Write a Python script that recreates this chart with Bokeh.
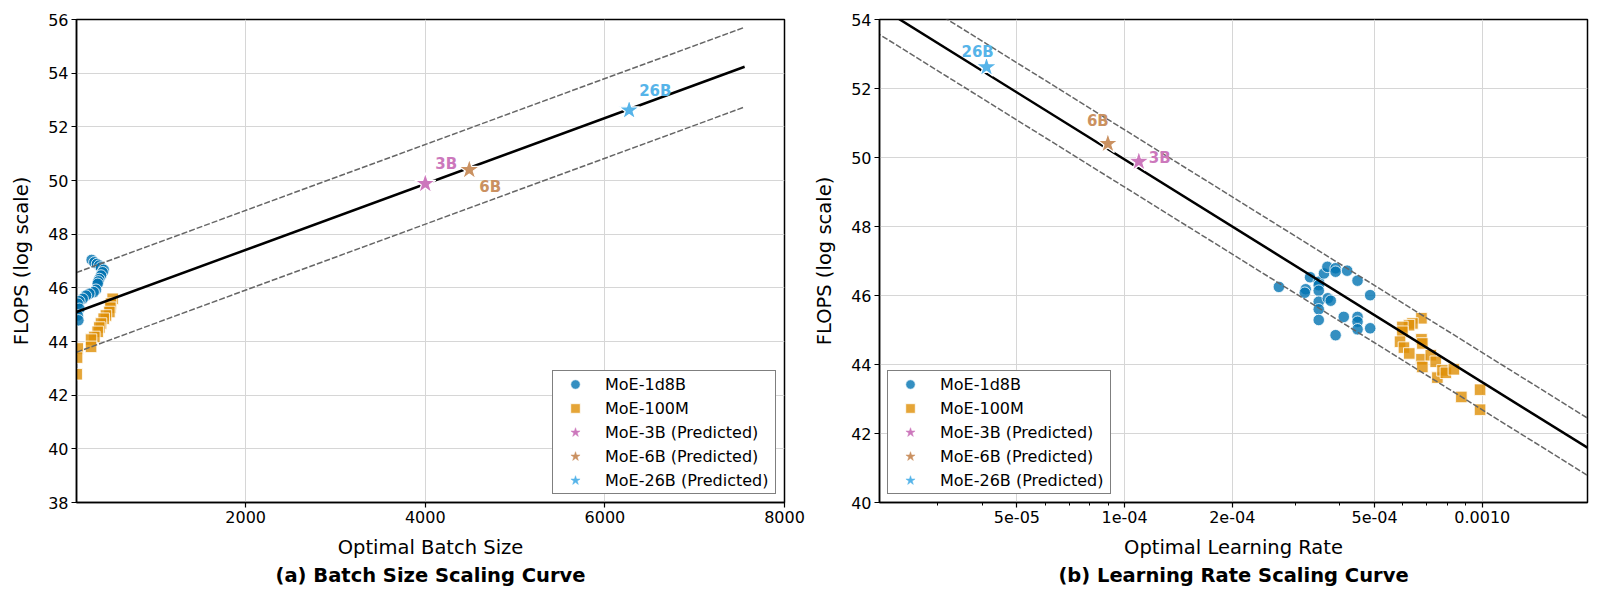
import numpy as np
from bokeh.plotting import figure
from bokeh.models import Range1d, FixedTicker, Title, Legend, LegendItem, ColumnDataSource
from bokeh.layouts import row
from bokeh.embed import file_html
from bokeh.resources import INLINE
from bokeh.core.properties import value

# ---------------- data: (a) batch size scaling ----------------
bs_1d8b = [285, 315, 344, 370, 389, 419, 407, 389, 370, 359, 352, 333, 307,
           259, 222, 185, 148, 130, 148, 130, 137]
flops_bs_1d8b = [47.04, 46.95, 46.89, 46.83, 46.76, 46.67, 46.58, 46.46, 46.33,
                 46.24, 46.15, 45.93, 45.84, 45.78, 45.71, 45.59, 45.50, 45.41,
                 45.22, 44.97, 44.79]
bs_100m = [519, 500, 493, 482, 444, 419, 389, 370, 352, 315, 278, 278, 130, 122, 118]
flops_bs_100m = [45.59, 45.41, 45.26, 45.10, 44.97, 44.85, 44.67, 44.52, 44.36,
                 44.17, 44.07, 43.80, 43.74, 43.40, 42.78]

# ---------------- data: (b) learning rate scaling ----------------
lr_1d8b = [2.70e-4, 3.21e-4, 3.19e-4, 3.30e-4, 3.49e-4, 3.49e-4, 3.49e-4, 3.49e-4,
           3.49e-4, 3.49e-4, 3.61e-4, 3.69e-4, 3.70e-4, 3.77e-4, 3.89e-4, 3.89e-4,
           3.89e-4, 4.10e-4, 4.19e-4, 4.48e-4, 4.48e-4, 4.48e-4, 4.48e-4, 4.86e-4,
           4.86e-4]
flops_lr_1d8b = [46.25, 46.18, 46.08, 46.53, 46.40, 46.30, 46.14, 45.82, 45.60,
                 45.29, 46.64, 46.83, 45.92, 45.85, 46.79, 46.69, 44.85, 45.38,
                 46.72, 46.43, 45.38, 45.24, 45.02, 46.01, 45.05]
lr_100m = [6.76e-4, 6.38e-4, 6.24e-4, 5.98e-4, 5.98e-4, 5.89e-4, 6.04e-4, 6.25e-4,
           6.76e-4, 6.80e-4, 6.76e-4, 6.80e-4, 7.18e-4, 7.41e-4, 7.49e-4, 7.74e-4,
           7.91e-4, 8.33e-4, 8.74e-4, 9.86e-4, 9.86e-4]
flops_lr_100m = [45.34, 45.19, 45.14, 45.09, 44.95, 44.66, 44.49, 44.32, 44.73,
                 44.61, 44.15, 43.93, 44.27, 44.08, 43.62, 43.83, 43.76, 43.86,
                 43.06, 43.27, 42.69]

# ---------------- predicted models ----------------
pred_names = ["3B", "6B", "26B"]
pred_legend = ["MoE-3B (Predicted)", "MoE-6B (Predicted)", "MoE-26B (Predicted)"]
pred_bs = [4000, 4490, 6270]
pred_lr = [1.096e-4, 8.98e-5, 4.11e-5]
pred_flops = [49.88, 50.40, 52.62]

# ---------------- fitted curves ----------------
bs_fit_intercept = 44.958
bs_fit_slope = 0.0012285
bs_fit_x = [116, 7556]
bs_band = [1.47, -1.50]

lr_fit_intercept = 24.118
lr_fit_slope = -6.456          # per decade of learning rate
lr_fit_x = [1.0e-5, 2.5e-3]
lr_band = [0.86, -0.80]

# tick labels
bs_ticks = [2000, 4000, 6000, 8000]
lr_ticks = [5e-5, 1e-4, 2e-4, 5e-4, 1e-3]
lr_tick_labels = ["5e-05", "1e-04", "2e-04", "5e-04", "0.0010"]
lr_minor = [2e-5, 3e-5, 4e-5, 6e-5, 7e-5, 8e-5, 9e-5, 3e-4, 4e-4, 6e-4, 7e-4, 8e-4, 9e-4]

# ---------------- styles ----------------
C_BLUE = "#0173b2"
C_ORANGE = "#de8f05"
pred_colors = ["#cc78bc", "#ca9161", "#56b4e9"]
FONT = "DejaVu Sans"
bs_label_dx = [10, 10, 10]
bs_label_dy = [-20, 17, -19]
lr_label_dx = [10, -21, -25]
lr_label_dy = [-4, -23, -15]
PT_SIZE = 11.5
STAR_SIZE = 22


def style(p, xlabel, subtitle):
    p.outline_line_color = "black"
    p.outline_line_width = 1.5
    p.background_fill_color = "white"
    p.border_fill_color = "white"
    for ax in (p.xaxis[0], p.yaxis[0]):
        ax.axis_line_color = "black"
        ax.axis_line_width = 1.5
        ax.major_tick_out = 5
        ax.major_tick_in = 0
        ax.major_tick_line_width = 1.2
        ax.minor_tick_out = 0
        ax.minor_tick_in = 0
        ax.major_label_text_font = FONT
        ax.major_label_text_font_size = "16px"
        ax.major_label_text_color = "black"
        ax.major_label_standoff = 3
        ax.axis_label_text_font = FONT
        ax.axis_label_text_font_size = "19.5px"
        ax.axis_label_text_font_style = "normal"
        ax.axis_label_text_color = "black"
    p.xaxis.axis_label = xlabel
    p.yaxis.axis_label = "FLOPS (log scale)"
    p.xaxis.axis_label_standoff = 10
    p.yaxis.axis_label_standoff = 12
    p.grid.grid_line_color = "#d6d6d6"
    p.grid.grid_line_width = 1
    p.add_layout(Title(text=subtitle, align="center", text_font=FONT,
                       text_font_size="19.5px", text_font_style="bold",
                       text_color="black", standoff=0), "below")


def add_legend(p, r_blue, r_orange, loc):
    items = [LegendItem(label="MoE-1d8B", renderers=[r_blue]),
             LegendItem(label="MoE-100M", renderers=[r_orange])]
    for lab, col in zip(pred_legend, pred_colors):
        # legend handle only: a single NaN point, never drawn in the plot area
        h = p.scatter(x=[np.nan], y=[np.nan], marker="star", fill_color=col,
                      line_color=col, line_width=0.5)
        items.append(LegendItem(label=lab, renderers=[h]))
    lg = Legend(items=items, location=loc, margin=8, padding=1, spacing=0,
                glyph_height=24, glyph_width=42, label_height=20, label_standoff=9,
                label_width=169, label_text_font=FONT, label_text_font_size="16px",
                label_text_color="black", border_line_color="black",
                border_line_width=1, background_fill_color="white",
                background_fill_alpha=1)
    p.add_layout(lg)


def add_points(p, xs_blue, ys_blue, xs_orange, ys_orange):
    rb = p.scatter(xs_blue, ys_blue, marker="circle", size=PT_SIZE, fill_color=C_BLUE,
                   fill_alpha=0.8, line_color="white", line_alpha=0.8, line_width=1)
    ro = p.scatter(xs_orange, ys_orange, marker="square", size=PT_SIZE,
                   fill_color=C_ORANGE, fill_alpha=0.8, line_color="white",
                   line_alpha=0.8, line_width=1)
    return rb, ro


def add_stars(p, xs, dx, dy):
    for i in range(3):
        p.scatter([xs[i]], [pred_flops[i]], marker="star", size=STAR_SIZE,
                  fill_color=pred_colors[i], line_color="white", line_width=1.2)
    src = ColumnDataSource(dict(x=xs, y=pred_flops, t=pred_names, c=pred_colors,
                                dx=dx, dy=dy))
    p.text(x="x", y="y", text="t", source=src, text_color="c", x_offset="dx",
           y_offset="dy", text_font=value(FONT), text_font_size="15px",
           text_font_style="bold", text_align="left", text_baseline="middle")


# ================= (a) Batch Size =================
p1 = figure(width=808, height=598, x_range=Range1d(116, 8000), y_range=Range1d(38, 56),
            output_backend="svg", toolbar_location=None,
            min_border_left=76, min_border_right=24, min_border_top=19,
            min_border_bottom=96)
style(p1, "Optimal Batch Size", "(a) Batch Size Scaling Curve")
p1.xaxis.ticker = FixedTicker(ticks=bs_ticks)
p1.xgrid.ticker = FixedTicker(ticks=bs_ticks)
yt1 = list(range(38, 57, 2))
p1.yaxis.ticker = FixedTicker(ticks=yt1)
p1.ygrid.ticker = FixedTicker(ticks=yt1)

rb1, ro1 = add_points(p1, bs_1d8b, flops_bs_1d8b, bs_100m, flops_bs_100m)
bx = np.array(bs_fit_x, dtype=float)
by = bs_fit_intercept + bs_fit_slope * bx
p1.line(bx, by, line_color="black", line_width=2.5)
for off in bs_band:
    p1.line(bx, by + off, line_color="#666666", line_width=1.5, line_dash="6 2")
add_stars(p1, pred_bs, bs_label_dx, bs_label_dy)
add_legend(p1, rb1, ro1, "bottom_right")

# ================= (b) Learning Rate =================
p2 = figure(width=789, height=598, x_axis_type="log",
            x_range=Range1d(2.064e-5, 1.969e-3), y_range=Range1d(40, 54),
            output_backend="svg", toolbar_location=None,
            min_border_left=71, min_border_right=10, min_border_top=19,
            min_border_bottom=96)
style(p2, "Optimal Learning Rate", "(b) Learning Rate Scaling Curve")
p2.xaxis.ticker = FixedTicker(ticks=lr_ticks, minor_ticks=lr_minor)
p2.xgrid.ticker = FixedTicker(ticks=lr_ticks)
p2.xaxis.major_label_overrides = {t: s for t, s in zip(lr_ticks, lr_tick_labels)}
p2.xaxis.minor_tick_out = 3
p2.xaxis.minor_tick_line_width = 1
yt2 = list(range(40, 55, 2))
p2.yaxis.ticker = FixedTicker(ticks=yt2)
p2.ygrid.ticker = FixedTicker(ticks=yt2)

rb2, ro2 = add_points(p2, lr_1d8b, flops_lr_1d8b, lr_100m, flops_lr_100m)
lx = np.array(lr_fit_x, dtype=float)
ly = lr_fit_intercept + lr_fit_slope * np.log10(lx)
p2.line(lx, ly, line_color="black", line_width=2.5)
for off in lr_band:
    p2.line(lx, ly + off, line_color="#666666", line_width=1.5, line_dash="6 2")
add_stars(p2, pred_lr, lr_label_dx, lr_label_dy)
add_legend(p2, rb2, ro2, "bottom_left")

layout = row(p1, p2)
open("out.html", "w").write(file_html(layout, INLINE))
